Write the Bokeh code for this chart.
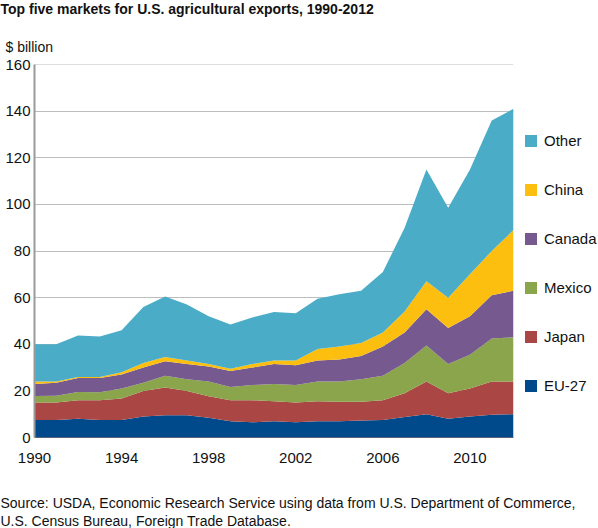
from bokeh.plotting import figure
from bokeh.models import ColumnDataSource, Title, Legend, LegendItem, FixedTicker, Range1d, Span
from bokeh.embed import file_html
from bokeh.resources import INLINE

years = list(range(1990, 2013))
eu27 = [7.5,7.5,8,7.5,7.5,9,9.5,9.5,8.5,7,6.5,7,6.5,7,7,7.3,7.5,8.8,10,8,9,9.8,10]
japan = [7.5,7.5,8,8.5,9.2,11,12,10.5,9.2,9,9.5,8.5,8.5,8.5,8.3,8,8.5,10.2,14,11,12,14.2,14]
mexico = [2.8,2.9,3.5,3.4,4.3,3.5,5,5,6.3,5.7,6.5,7.5,7.5,8.5,8.7,9.7,10.5,13,15.5,12.5,14.5,18.5,19]
canada = [5.2,5.6,6,6.1,6,6.5,6.2,6.5,6.5,6.8,7.5,8.5,8.5,9,9.5,10,12.5,13,15.5,15.5,16.5,18.5,20]
china = [1,.5,.5,.5,1,2,1.8,1.5,1,1,1.5,1.5,2,5,5.5,5.5,6,9,12,13,18,19,26]
other = [16,16,17.7,17.3,18,24,26,24,20.5,19,20,20.8,20.3,21.5,22.5,22.5,26,36,48,38.5,45,56,52]
names = ["EU-27", "Japan", "Mexico", "Canada", "China", "Other"]
colors = ["#004A8C", "#AA4745", "#8AA54B", "#765A8F", "#FDBF0F", "#4AACC6"]
y_ticks = [0, 20, 40, 60, 80, 100, 120, 140, 160]
x_ticks = [1990, 1994, 1998, 2002, 2006, 2010]
title_text = "Top five markets for U.S. agricultural exports, 1990-2012"
unit_text = "$ billion"
source_lines = ["Source: USDA, Economic Research Service using data from U.S. Department of Commerce,",
                "U.S. Census Bureau, Foreign Trade Database."]

src = ColumnDataSource({
    "year": years, "EU-27": eu27, "Japan": japan, "Mexico": mexico,
    "Canada": canada, "China": china, "Other": other})

FONT = "Liberation Sans"
L, T, B = 34, 66, 91
FW, FH = 479, 373

p = figure(output_backend="svg", toolbar_location=None,
           x_range=Range1d(1990, 2012), y_range=Range1d(0, 160),
           frame_width=FW, frame_height=FH,
           min_border_left=L, min_border_right=0, min_border_top=T, min_border_bottom=B,
           margin=(-2, 0, 0, 0), outline_line_color=None, background_fill_color="white")

areas = p.varea_stack(stackers=names, x="year", color=colors, source=src)

p.xaxis.ticker = FixedTicker(ticks=x_ticks)
p.yaxis.ticker = FixedTicker(ticks=y_ticks)
p.xgrid.visible = False
p.ygrid.ticker = FixedTicker(ticks=y_ticks)
p.ygrid.grid_line_color = "#BDBDBD"
p.ygrid.grid_line_width = 1
p.add_layout(Span(location=y_ticks[-1], dimension="width", line_color="#BDBDBD", line_width=1, level="underlay"))
p.yaxis.axis_line_color = "#9A9A9A"
p.yaxis.axis_line_width = 2
p.xaxis.axis_line_color = "#5A6478"
p.xaxis.axis_line_width = 1
for ax in (p.xaxis, p.yaxis):
    ax.major_tick_line_color = None
    ax.major_tick_out = 0
    ax.major_tick_in = 0
    ax.minor_tick_line_color = None
    ax.major_label_text_font = FONT
    ax.major_label_text_font_size = "15px"
    ax.major_label_text_color = "#111111"
p.yaxis.major_label_standoff = 4
p.xaxis.major_label_standoff = 15

legend = Legend(items=[LegendItem(label=n, renderers=[a]) for n, a in zip(names[::-1], areas[::-1])],
                location=(10, 43), orientation="vertical", border_line_color=None,
                background_fill_alpha=0, glyph_width=15, glyph_height=15, label_standoff=6,
                spacing=32, padding=0, margin=0, label_text_font=FONT, label_text_font_size="15px",
                label_text_color="#111111", label_height=15)
p.add_layout(legend, "right")

def text(t, side, standoff, offset, bold=False, size="14px"):
    p.add_layout(Title(text=t, align="left", offset=offset, standoff=standoff,
                       text_font=FONT, text_font_size=size, text_color="#111111",
                       text_font_style="bold" if bold else "normal"), side)

text(unit_text, "above", 19, 5 - L)
text(" ", "above", 8, 0, size="1px")
text(title_text, "above", 0, -L, True)
text(" ", "below", 24, 0, size="1px")
text(source_lines[0], "below", 0, -L)
text(source_lines[1], "below", 0, -L)

open("out.html", "w").write(file_html(p, INLINE))
